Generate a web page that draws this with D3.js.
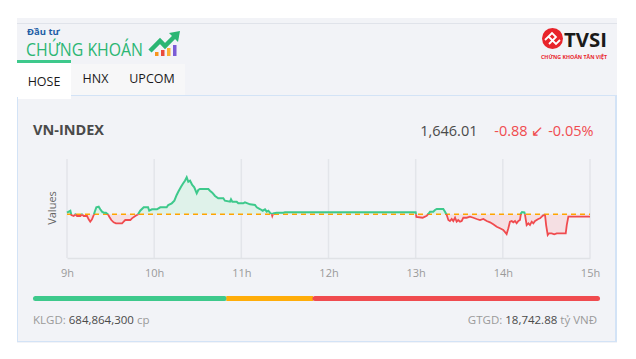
<!DOCTYPE html>
<html>
<head>
<meta charset="utf-8">
<script src="https://cdn.jsdelivr.net/npm/d3@7"></script>
<style>
  html, body { margin: 0; padding: 0; background: #ffffff; }
  svg { display: block; }
  text { font-family: "Open Sans", "Noto Sans", sans-serif; }
</style>
</head>
<body>
<svg id="chart" width="636" height="359"></svg>
<script>
// ---------- DATA ----------
const refValue = 1646.89;               // previous close (dashed line)
const lastValue = "1,646.01";
const changeText = "-0.88 \u2199 -0.05%";
const hourTicks = [0, 60, 120, 180, 240, 300, 360];   // minutes after 9:00
const hourLabels = ["9h", "10h", "11h", "12h", "13h", "14h", "15h"];
const tabs = ["HOSE", "HNX", "UPCOM"];
const klgdValue = "684,864,300";
const gtgdValue = "18,742.88";
// breadth bar: advancing / unchanged / declining (relative widths)
const breadthCounts = [191, 88, 284];
const breadthColors = ["#3ec98c", "#ffad0a", "#f04b4f"];

// intraday series: minutes after 9:00 and index value
const minutes = [0, 2.3, 3, 4.6, 5.7, 6.9, 9.2, 10.3, 11.5, 13.8, 14.9, 16, 17.2, 18.4, 19.1, 20.2, 21.8, 22.9, 24.1, 25.3,
  26.8, 28.2, 29.1, 30.5, 32.1, 33.7, 37.9, 39, 40.1, 43.6, 44.7, 47, 48.9, 50.4, 52.8, 55.8, 56.6, 58.5, 61.9, 64.2,
  68.6, 69.7, 72.1, 73.9, 75.5, 76.6, 78.5, 80, 81.2, 82.4, 83.5, 84.7, 86.2, 87.6, 89.3, 90.4, 91.5, 97.3, 98.4, 100,
  101.9, 104.1, 107.6, 108.7, 112.2, 112.9, 113.8, 116.8, 117.9, 121.3, 122.5, 126, 129.4, 130.6, 132.8, 134.7, 136.3, 137.5, 138.6, 139.7,
  140.9, 141.3, 142, 144.3, 148.9, 150,
  240, 240.5, 244.8, 246.4, 247.6, 248.7, 249.9, 252.1, 253.3, 254.5, 259, 260.2, 261.4, 262.5, 263.6, 264.8, 265.9, 267.1, 268.2, 269.3,
  270.5, 271.7, 272.8, 275.1, 277.4, 279.7, 282, 284.3, 286.6, 288.9, 291.2, 293.4, 295.8, 298, 300.3, 302.6, 303.8, 304.9, 306.1, 307.2,
  308.4, 309.5, 310.7, 311.8, 312.5, 313.2, 314.8, 315.3, 316.4, 317.6, 318.7, 319.9, 321, 322.2, 323.3, 324.4, 325.6, 326.8, 327.9, 329.1,
  329.8, 330.9, 331.8, 333.6, 335.4, 337.1, 343.3, 344, 345.1, 360];
const values = [1647.25, 1647.69, 1646.73, 1646.51, 1646.89, 1646.51, 1646.51, 1646.89, 1646.51, 1646.51, 1645.78, 1645.25, 1645.78, 1646.73, 1647.47, 1648.45, 1648.58, 1648.00, 1647.47, 1647.25,
  1647.25, 1646.89, 1646.36, 1645.62, 1645.11, 1644.89, 1644.89, 1645.25, 1645.62, 1645.62, 1646.00, 1646.51, 1646.89, 1647.69, 1648.45, 1648.45, 1647.69, 1648.00, 1648.00, 1648.45,
  1648.45, 1648.96, 1649.33, 1649.91, 1651.18, 1651.91, 1653.02, 1653.78, 1654.36, 1655.11, 1654.13, 1654.36, 1653.40, 1652.89, 1651.56, 1652.29, 1652.51, 1652.51, 1652.13, 1651.69,
  1650.96, 1650.45, 1650.45, 1649.91, 1649.69, 1650.22, 1649.69, 1649.69, 1649.33, 1649.33, 1649.56, 1649.11, 1648.96, 1648.45, 1648.07, 1647.69, 1648.00, 1647.47, 1647.69, 1647.25,
  1646.96, 1646.51, 1647.11, 1647.25, 1647.25, 1647.33,
  1647.33, 1646.29, 1646.13, 1646.36, 1646.58, 1646.96, 1647.47, 1647.47, 1647.85, 1648.07, 1648.07, 1647.47, 1646.73, 1645.62, 1645.40, 1645.85, 1645.40, 1646.13, 1645.25, 1645.62,
  1645.25, 1645.40, 1646.13, 1646.13, 1646.36, 1646.13, 1645.85, 1645.62, 1645.85, 1645.40, 1645.11, 1644.67, 1644.13, 1643.78, 1643.40, 1642.51, 1643.78, 1645.25, 1645.40, 1645.11,
  1645.40, 1644.89, 1645.40, 1645.62, 1647.11, 1647.40, 1647.33, 1646.73, 1644.51, 1644.89, 1644.51, 1645.25, 1644.89, 1645.40, 1645.62, 1645.85, 1646.00, 1646.36, 1646.73, 1646.58,
  1644.51, 1642.29, 1642.67, 1642.67, 1642.45, 1642.67, 1642.67, 1644.51, 1646.36, 1646.36];
const yDomain = [1637.25, 1659.11];

// ---------- DRAW ----------
const svg = d3.select("#chart");
const GREEN = "#3ec98c", RED = "#f04b4f";

// outer panel
svg.append("rect").attr("x", 17).attr("y", 18).attr("width", 600).attr("height", 325).attr("fill", "#f2f3f7");
svg.append("line").attr("x1", 17).attr("x2", 617).attr("y1", 23.5).attr("y2", 23.5).attr("stroke", "#e0e3ea").attr("stroke-width", 1);

// logo: Đầu tư CHỨNG KHOÁN
svg.append("text").attr("x", 27).attr("y", 35).attr("font-size", 9.5).attr("font-weight", 700)
  .attr("fill", "#1f5fa6").attr("font-family", "Roboto").text("Đầu tư");
svg.append("text").attr("x", 26).attr("y", 55.5).attr("font-size", 18).attr("font-weight", 500)
  .attr("fill", "#2bb673").attr("font-family", "Roboto").attr("textLength", 117).attr("lengthAdjust", "spacingAndGlyphs")
  .text("CHỨNG KHOÁN");
const logoBars = [[155, 4, "#f7941d"], [161, 6, "#e94b3c"], [167, 8, "#f9b233"], [173, 11, "#7b5cd6"]];
logoBars.forEach(b => svg.append("rect").attr("x", b[0]).attr("y", 56 - b[1]).attr("width", 3.5).attr("height", b[1]).attr("fill", b[2]));
svg.append("path").attr("d", "M150,51 L160,41 L165,46 L174,37")
  .attr("fill", "none").attr("stroke", "#2bb673").attr("stroke-width", 4.5).attr("stroke-linejoin", "miter");
svg.append("path").attr("d", "M169,33 L180,31 L178,42 Z").attr("fill", "#2bb673");

// TVSI logo
svg.append("circle").attr("cx", 552.5).attr("cy", 38.5).attr("r", 10.5).attr("fill", "#e8242b");
svg.append("path").attr("d", "M545,40 L552,33 L556,37 L549,44 M549,37 L556,44 L560,40")
  .attr("fill", "none").attr("stroke", "#fff").attr("stroke-width", 1.8);
svg.append("text").attr("x", 564).attr("y", 47).attr("font-size", 20).attr("font-weight", 700)
  .attr("fill", "#1a1a1a").attr("font-family", "Liberation Sans").attr("textLength", 43).attr("lengthAdjust", "spacingAndGlyphs").text("TVSI");
svg.append("text").attr("x", 541).attr("y", 59).attr("font-size", 5).attr("font-weight", 700)
  .attr("fill", "#e8242b").attr("font-family", "Liberation Sans").attr("textLength", 66).attr("lengthAdjust", "spacingAndGlyphs").text("CHỨNG KHOÁN TÂN VIỆT");

// tabs
svg.append("rect").attr("x", 71).attr("y", 64).attr("width", 114).attr("height", 32).attr("fill", "#f7f7f8");
svg.append("rect").attr("x", 17).attr("y", 60).attr("width", 54).attr("height", 39).attr("fill", "#ffffff");
svg.append("rect").attr("x", 17).attr("y", 60).attr("width", 54).attr("height", 3).attr("fill", "#3ec98c");
const tabX = [44, 95.5, 152];
tabs.forEach((t, i) => svg.append("text").attr("x", tabX[i]).attr("y", i === 0 ? 86 : 83).attr("text-anchor", "middle")
  .attr("font-size", 12.5).attr("fill", "#1a1a1a").text(t));

// inner card
svg.append("rect").attr("x", 17.5).attr("y", 95.5).attr("width", 598).attr("height", 246).attr("fill", "none")
  .attr("stroke", "#d3e3f6").attr("stroke-width", 1);
svg.append("line").attr("x1", 616).attr("x2", 616).attr("y1", 95).attr("y2", 342).attr("stroke", "#d3e3f6").attr("stroke-width", 2);
svg.append("rect").attr("x", 17).attr("y", 94).attr("width", 54).attr("height", 3).attr("fill", "#ffffff");

// header
svg.append("text").attr("x", 33).attr("y", 135).attr("font-size", 14.5).attr("font-weight", 700)
  .attr("fill", "#4a4a4a").text("VN-INDEX");
svg.append("text").attr("x", 593.5).attr("y", 136).attr("text-anchor", "end").attr("font-size", 14.5)
  .attr("fill", RED).text(changeText);
svg.append("text").attr("x", 477.5).attr("y", 136).attr("text-anchor", "end").attr("font-size", 14.5)
  .attr("fill", "#4a4a4a").text(lastValue);

// plot
const x = d3.scaleLinear().domain([0, 360]).range([67, 590]);
const y = d3.scaleLinear().domain(yDomain).range([257.7, 159.3]);
const data = minutes.map((m, i) => ({ m, v: values[i] }));

svg.append("g").selectAll("line").data(hourTicks).join("line")
  .attr("x1", d => x(d)).attr("x2", d => x(d)).attr("y1", 159).attr("y2", 258)
  .attr("stroke", "#e3e5ea").attr("stroke-width", 1.5);
const xAxis = svg.append("g").attr("transform", "translate(0,258)")
  .call(d3.axisBottom(x).tickValues(hourTicks).tickFormat((d, i) => hourLabels[i]).tickSize(0).tickPadding(11));
xAxis.select(".domain").attr("stroke", "#e0e2e6").attr("stroke-width", 1.5);
xAxis.selectAll("text").attr("fill", "#9a9a9a").attr("font-size", 11).attr("font-family", "Open Sans");

svg.append("text").attr("transform", "translate(56,208) rotate(-90)").attr("text-anchor", "middle")
  .attr("font-size", 11).attr("fill", "#666").text("Values");

const yRef = y(refValue);
const defs = svg.append("defs");
defs.append("clipPath").attr("id", "above").append("rect").attr("x", 0).attr("y", 0).attr("width", 636).attr("height", yRef);
defs.append("clipPath").attr("id", "below").append("rect").attr("x", 0).attr("y", yRef).attr("width", 636).attr("height", 359 - yRef);

const area = d3.area().x(d => x(d.m)).y0(yRef).y1(d => y(d.v));
const line = d3.line().x(d => x(d.m)).y(d => y(d.v));

svg.append("path").datum(data).attr("d", area).attr("fill", "#dff2ea").attr("clip-path", "url(#above)");
svg.append("path").datum(data).attr("d", area).attr("fill", "#f5dfe3").attr("clip-path", "url(#below)");
svg.append("line").attr("x1", x(0)).attr("x2", x(360)).attr("y1", yRef).attr("y2", yRef)
  .attr("stroke", "#ffa500").attr("stroke-width", 1.5).attr("stroke-dasharray", "5,4");
svg.append("path").datum(data).attr("d", line).attr("fill", "none").attr("stroke", GREEN).attr("stroke-width", 2)
  .attr("clip-path", "url(#above)");
svg.append("path").datum(data).attr("d", line).attr("fill", "none").attr("stroke", RED).attr("stroke-width", 1.8)
  .attr("clip-path", "url(#below)");

// breadth bar
const total = d3.sum(breadthCounts);
const bx = d3.scaleLinear().domain([0, total]).range([33, 600]);
let acc = 0;
breadthCounts.forEach((c, i) => {
  const x0 = bx(acc) + (i > 0 ? 1 : 0), x1 = bx(acc + c) - (i < breadthCounts.length - 1 ? 1 : 0);
  svg.append("line").attr("x1", x0 + (i === 0 ? 2.5 : 0)).attr("x2", x1 - (i === 2 ? 2.5 : 0)).attr("y1", 298.5).attr("y2", 298.5)
    .attr("stroke", breadthColors[i]).attr("stroke-width", 5)
    .attr("stroke-linecap", (i === 0 || i === 2) ? "round" : "butt");
  acc += c;
});

// footer text
const kl = svg.append("text").attr("x", 33).attr("y", 324).attr("font-size", 11.5).attr("fill", "#9a9a9a");
kl.append("tspan").text("KLGD: ");
kl.append("tspan").attr("fill", "#4a4a4a").text(klgdValue);
kl.append("tspan").text(" cp");
const gt = svg.append("text").attr("x", 597).attr("y", 324).attr("text-anchor", "end").attr("font-size", 11.5).attr("fill", "#9a9a9a");
gt.append("tspan").text("GTGD: ");
gt.append("tspan").attr("fill", "#4a4a4a").text(gtgdValue);
gt.append("tspan").text(" tỷ VNĐ");
</script>
</body>
</html>
